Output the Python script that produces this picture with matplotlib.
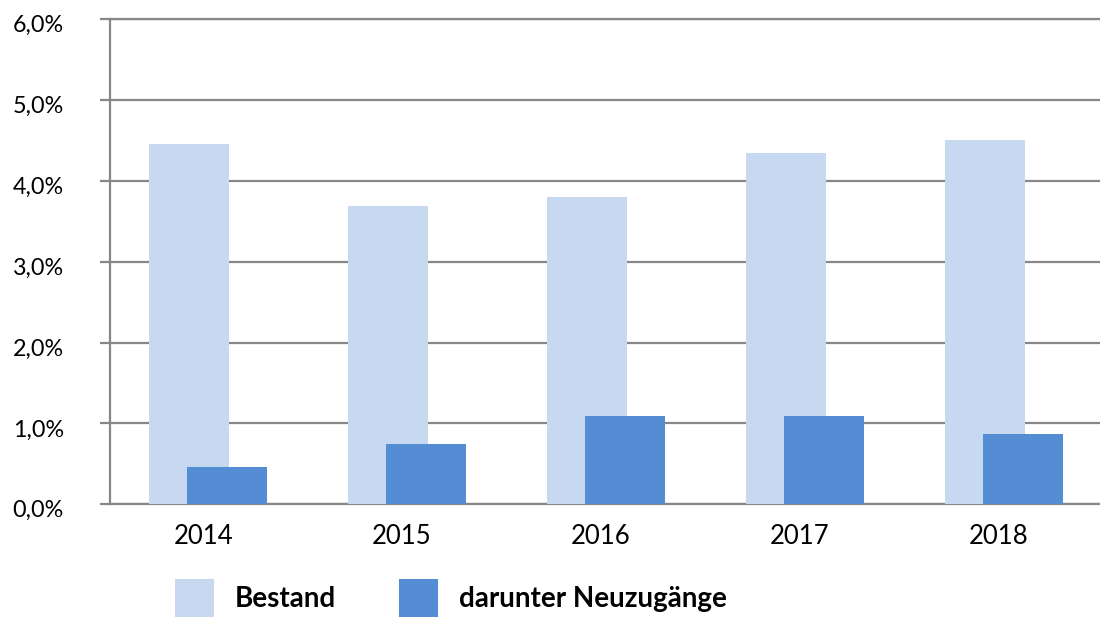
import matplotlib
matplotlib.use("Agg")
import matplotlib.pyplot as plt
from matplotlib.transforms import ScaledTranslation
from matplotlib.ticker import FixedLocator

# ---- data ----
years = ["2014", "2015", "2016", "2017", "2018"]
bestand = [4.45, 3.69, 3.80, 4.34, 4.51]
neuzugaenge = [0.46, 0.745, 1.095, 1.095, 0.87]
y_ticks = [0, 1, 2, 3, 4, 5, 6]
y_ticklabels = ["0,0%", "1,0%", "2,0%", "3,0%", "4,0%", "5,0%", "6,0%"]
series_names = ["Bestand", "darunter Neuzugänge"]

LIGHT = "#c6d9f1"
DARK = "#548dd4"
GRID = "#878787"

plt.rcParams["font.family"] = ["Lato", "DejaVu Sans"]

fig = plt.figure(figsize=(11, 6.17), dpi=100)
ax = fig.add_axes([110 / 1100, 1 - 504.3 / 617, 990 / 1100, (504.3 - 19) / 617])

x = list(range(len(years)))
w = 0.402
off = 0.096
b1 = ax.bar([i - off for i in x], bestand, width=w, color=LIGHT, zorder=3,
            label=series_names[0])
b2 = ax.bar([i + off for i in x], neuzugaenge, width=w, color=DARK, zorder=4,
            label=series_names[1])

ax.set_xlim(-0.494, 4.484)
ax.set_ylim(0, 6)
ax.yaxis.set_major_locator(FixedLocator(y_ticks))
ax.set_yticklabels(y_ticklabels)
ax.set_xticks(x)
ax.set_xticklabels(years)

ax.yaxis.grid(True, color=GRID, linewidth=1.6, zorder=1)
ax.set_axisbelow(True)
ax.spines["right"].set_visible(False)
for s in ["left", "bottom", "top"]:
    ax.spines[s].set_color(GRID)
    ax.spines[s].set_linewidth(1.6)

ax.tick_params(axis="y", length=7.2, width=1.6, color=GRID, pad=26,
               labelsize=16.8, labelcolor="black")
ax.tick_params(axis="x", length=0, pad=14, labelsize=18.5, labelcolor="black")

for lab in ax.get_yticklabels():
    lab.set_transform(lab.get_transform() + ScaledTranslation(0, -4.5 / 100, fig.dpi_scale_trans))
for lab in ax.get_xticklabels():
    lab.set_transform(lab.get_transform() + ScaledTranslation(-5 / 100, 0, fig.dpi_scale_trans))

leg = fig.legend(handles=[b1, b2], labels=series_names, loc="upper left",
                 bbox_to_anchor=(175 / 1100, 1 - 579 / 617), ncol=2,
                 frameon=False, borderpad=0, borderaxespad=0,
                 handlelength=1.4, handleheight=1.7, handletextpad=0.75,
                 columnspacing=2.27, prop={"size": 20, "weight": "bold"})

fig.savefig("out.png", dpi=100)
